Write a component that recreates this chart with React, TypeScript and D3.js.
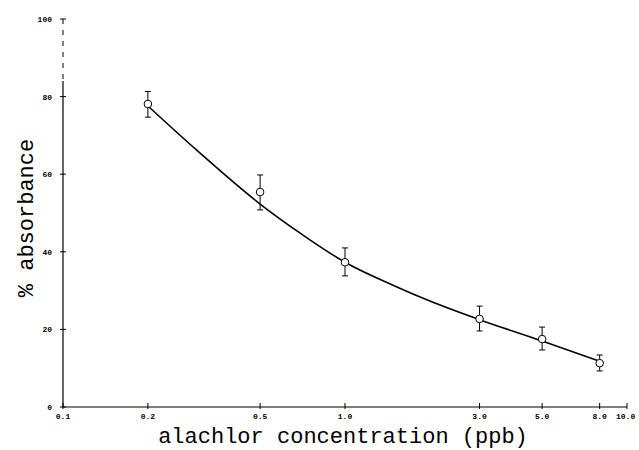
import React from "react";
import * as d3 from "d3";

const concentrations = [0.2, 0.5, 1.0, 3.0, 5.0, 8.0];
const absorbance = [78.1, 55.4, 37.3, 22.7, 17.5, 11.3];
const errLow = [74.7, 50.8, 33.8, 19.6, 14.7, 9.3];
const errHigh = [81.3, 59.8, 41.0, 26.0, 20.6, 13.4];

const curveX = [0.2, 0.3, 0.5, 0.7, 1.0, 1.5, 2.0, 3.0, 5.0, 8.0];
const curveY = [77.6, 66.0, 52.3, 44.6, 37.3, 31.2, 27.3, 22.5, 17.0, 11.8];

const xTicks = [0.1, 0.2, 0.5, 1.0, 3.0, 5.0, 8.0, 10.0];
const xTickLabels = ["0.1", "0.2", "0.5", "1.0", "3.0", "5.0", "8.0", "10.0"];
const yTicks = [0, 20, 40, 60, 80, 100];

export default function App() {
  const W = 639, H = 450;
  const x = d3.scaleLog().domain([0.1, 10]).range([63, 627]);
  const y = d3.scaleLinear().domain([0, 100]).range([407, 19]);
  const line = d3
    .line<number>()
    .x((_, i) => x(curveX[i]))
    .y((d) => y(d))
    .curve(d3.curveMonotoneX);

  return (
    <svg width={W} height={H} style={{ position: "absolute", left: 0, top: 0, background: "#fff" }}>
      {/* y axis */}
      <line x1={63} x2={63} y1={y(100)} y2={y(84)} stroke="#000" strokeWidth={1} strokeDasharray="5,6" />
      <line x1={63} x2={63} y1={y(84)} y2={y(0)} stroke="#000" strokeWidth={1.2} />
      {/* x axis */}
      <line x1={63} x2={x(10)} y1={y(0)} y2={y(0)} stroke="#000" strokeWidth={1.2} />
      {yTicks.map((t) => (
        <g key={"y" + t}>
          <line x1={60} x2={66} y1={y(t)} y2={y(t)} stroke="#000" strokeWidth={1} />
          <text
            x={52}
            y={y(t) + 3}
            textAnchor="end"
            fontFamily="Liberation Mono, monospace"
            fontSize={8}
            fontWeight="bold"
          >
            {t}
          </text>
        </g>
      ))}
      {xTicks.map((t, i) => (
        <g key={"x" + t}>
          <line x1={x(t)} x2={x(t)} y1={y(0) - 4} y2={y(0) + 2} stroke="#000" strokeWidth={1} />
          <text
            x={i === xTicks.length - 1 ? x(t) - 11 : x(t)}
            y={y(0) + 12}
            textAnchor={i === xTicks.length - 1 ? "start" : "middle"}
            fontFamily="Liberation Mono, monospace"
            fontSize={8}
            fontWeight="bold"
          >
            {xTickLabels[i]}
          </text>
        </g>
      ))}
      {/* fitted curve */}
      <path d={line(curveY) || ""} fill="none" stroke="#000" strokeWidth={1.6} />
      {/* data points with error bars */}
      {concentrations.map((c, i) => {
        const cx = x(c);
        return (
          <g key={"p" + i} stroke="#000" fill="none" strokeWidth={1}>
            <line x1={cx} x2={cx} y1={y(errHigh[i])} y2={y(errLow[i])} />
            <line x1={cx - 3} x2={cx + 3} y1={y(errHigh[i])} y2={y(errHigh[i])} />
            <line x1={cx - 3} x2={cx + 3} y1={y(errLow[i])} y2={y(errLow[i])} />
            <circle cx={cx} cy={y(absorbance[i])} r={3.8} fill="#fff" />
          </g>
        );
      })}
      {/* axis titles */}
      <text
        x={343}
        y={443}
        textAnchor="middle"
        fontFamily="Liberation Mono, monospace"
        fontSize={22}
      >
        alachlor concentration (ppb)
      </text>
      <text
        transform={`translate(33,${218}) rotate(-90)`}
        textAnchor="middle"
        fontFamily="Liberation Mono, monospace"
        fontSize={22}
      >
        % absorbance
      </text>
    </svg>
  );
}
